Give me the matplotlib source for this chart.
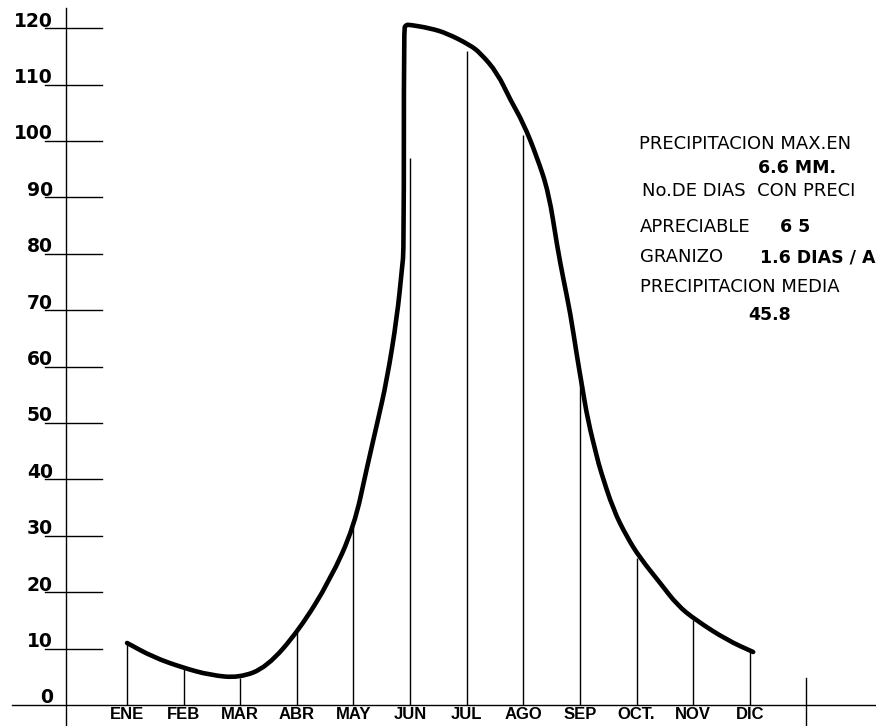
import matplotlib
matplotlib.use("Agg")
import matplotlib.pyplot as plt
from matplotlib.path import Path
from matplotlib.patches import PathPatch

# meses (posicion 1..12) y altura de las lineas verticales de cada mes
meses = ["ENE", "FEB", "MAR", "ABR", "MAY", "JUN", "JUL", "AGO", "SEP", "OCT.", "NOV", "DIC"]
valores_mes = [11.0, 6.6, 4.8, 13.3, 31.6, 97.0, 116.0, 101.0, 57.6, 26.1, 15.1, 9.4]

# curva de precipitacion (x en meses, y en mm)
curva_x = [1.0, 1.46, 1.99, 2.47, 2.98, 3.47, 4.04, 4.59, 5.01, 5.24, 5.42, 5.59,
           5.77, 5.86, 5.89, 5.89, 5.92, 6.0, 6.35, 6.65, 7.06, 7.24, 7.54, 7.77,
           8.0, 8.24, 8.45, 8.60, 8.71, 8.83, 8.95, 9.04, 9.14, 9.30, 9.36, 9.59,
           9.83, 10.06, 10.42, 10.72, 11.04, 11.60, 12.06]
curva_y = [11.0, 8.5, 6.6, 5.3, 4.8, 6.7, 13.3, 22.2, 31.6, 42.2, 50.0, 57.6,
           68.8, 77.7, 80.7, 119.7, 120.6, 120.6, 120.0, 119.1, 117.0, 115.6, 112.1, 107.3,
           103.2, 97.2, 90.8, 81.2, 75.4, 69.5, 61.7, 56.4, 50.5, 44.0, 41.7, 34.6,
           29.8, 26.1, 21.6, 17.7, 15.1, 11.5, 9.4]

niveles = [0, 10, 20, 30, 40, 50, 60, 70, 80, 90, 100, 110, 120]


def curva_suave(xs, ys):
	# trazo con curvas cuadraticas de matplotlib usando los puntos leidos como control
	pts = list(zip(xs, ys))
	verts = [pts[0]]
	codes = [Path.MOVETO]
	mid = ((pts[0][0] + pts[1][0]) / 2, (pts[0][1] + pts[1][1]) / 2)
	verts.append(mid)
	codes.append(Path.LINETO)
	for i in range(1, len(pts) - 1):
		a = pts[i]
		b = pts[i + 1]
		verts.extend([a, ((a[0] + b[0]) / 2, (a[1] + b[1]) / 2)])
		codes.extend([Path.CURVE3, Path.CURVE3])
	verts.append(pts[-1])
	codes.append(Path.LINETO)
	return Path(verts, codes)


def main():
	fig = plt.figure(figsize=(8.76, 7.26), dpi=100)
	ax = fig.add_axes([0, 0, 1, 1])
	ax.set_xlim(-1.244, 14.23)
	ax.set_ylim(-3.72, 125.0)
	ax.axis("off")

	# ejes dibujados a mano
	ax.plot([-1.03, 14.23], [0, 0], color="black", lw=1.0)
	ax.plot([-0.07, -0.07], [-3.72, 123.5], color="black", lw=1.0)
	ax.plot([13, 13], [-3.72, 4.8], color="black", lw=1.0)

	for n in niveles[1:]:
		ax.plot([-0.45, 0.55], [n, n], color="black", lw=1.0)
	for n in niveles:
		ax.text(-0.31, n + 0.3, str(n), ha="right", va="baseline",
				fontsize=13.5, fontweight="heavy")

	# lineas verticales de cada mes
	pos = list(range(1, 13))
	ax.vlines(pos, 0, valores_mes, color="black", lw=1.0)
	for p, m in zip(pos, meses):
		ax.text(p, -0.35, m, ha="center", va="top", fontsize=12,
				fontweight="bold", family="Liberation Sans")

	ax.add_patch(PathPatch(curva_suave(curva_x, curva_y), facecolor="none",
						   edgecolor="black", lw=3.3, joinstyle="round", capstyle="round"))

	# notas (cortadas en el borde derecho como en el original)
	fs = 13
	fb = 12.5
	ax.text(10.05, 98.6, "PRECIPITACION MAX.EN", fontsize=fs, va="baseline")
	ax.text(12.15, 94.4, "6.6 MM.", fontsize=fb, va="baseline", fontweight="heavy")
	ax.text(10.1, 90.2, "No.DE DIAS  CON PRECI", fontsize=fs, va="baseline")
	ax.text(10.06, 83.9, "APRECIABLE", fontsize=fs, va="baseline")
	ax.text(12.54, 83.9, "6 5", fontsize=fb, va="baseline", fontweight="heavy")
	ax.text(10.06, 78.5, "GRANIZO", fontsize=fs, va="baseline")
	ax.text(12.18, 78.5, "1.6 DIAS / A", fontsize=fb, va="baseline", fontweight="heavy")
	ax.text(10.06, 73.2, "PRECIPITACION MEDIA", fontsize=fs, va="baseline")
	ax.text(11.97, 68.3, "45.8", fontsize=fb, va="baseline", fontweight="heavy")

	fig.savefig("out.png", dpi=100, facecolor="white")


main()
